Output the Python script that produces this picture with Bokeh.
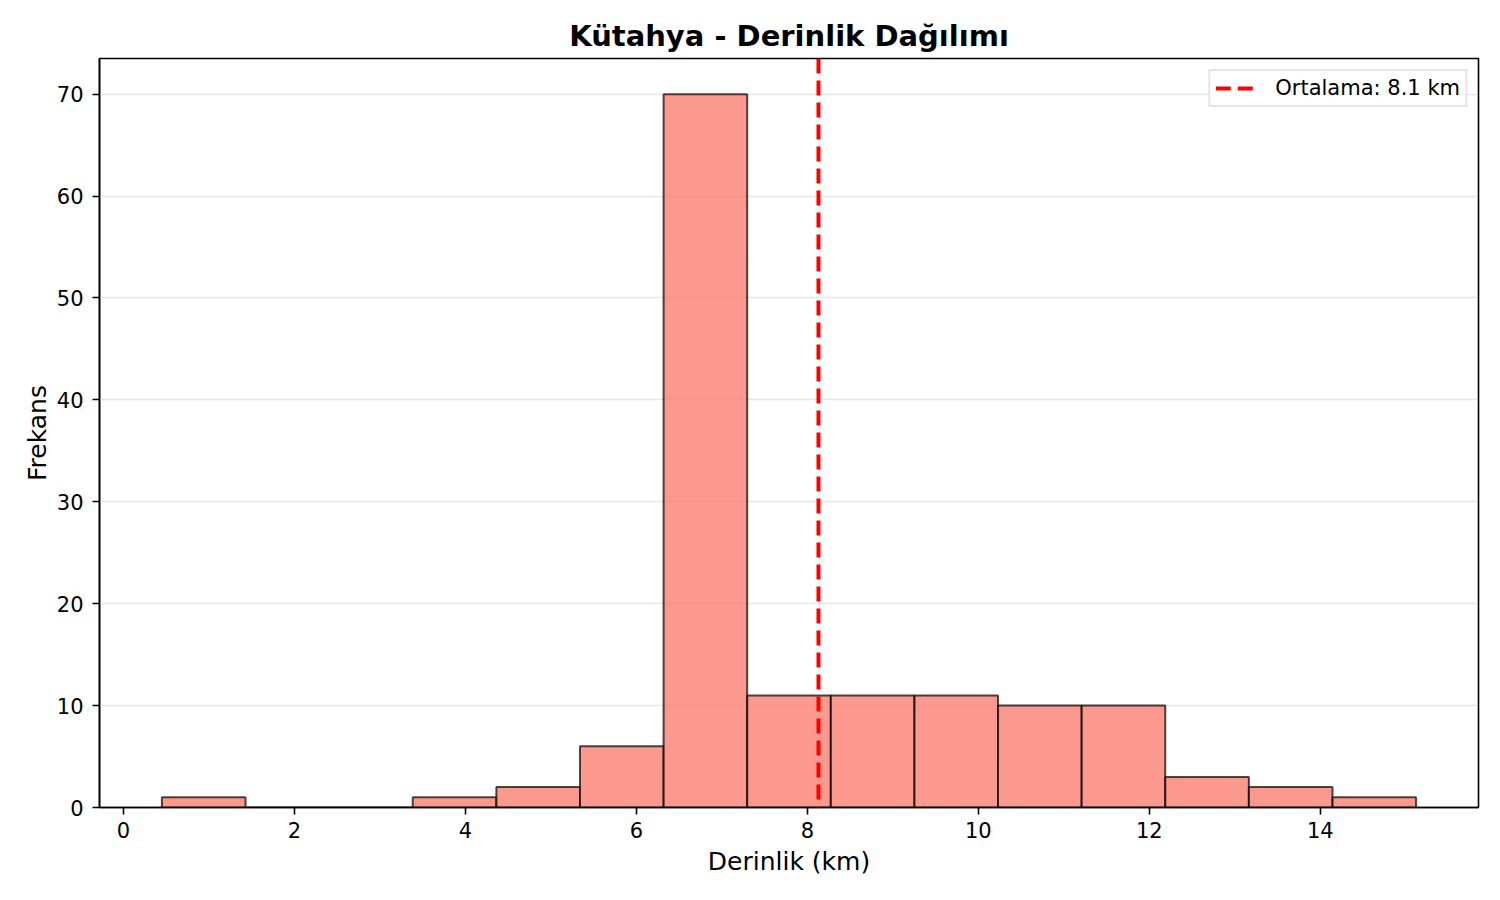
"""Kütahya derinlik histogramı."""
import bokeh.models as bm
import bokeh.plotting as bp
from bokeh.embed import file_html
from bokeh.resources import INLINE

# histogram kutuları (km) ve frekanslar
bin_edges = [0.45, 1.428, 2.406, 3.384, 4.362, 5.34, 6.318, 7.296, 8.274,
             9.252, 10.23, 11.208, 12.186, 13.164, 14.142, 15.12]
counts = [1, 0, 0, 1, 2, 6, 70, 11, 11, 11, 10, 10, 3, 2, 1]
mean_depth = 8.13
x_ticks = [0, 2, 4, 6, 8, 10, 12, 14]
y_ticks = [0, 10, 20, 30, 40, 50, 60, 70]

FONT = "DejaVu Sans"


def make_graph() -> bp.figure:
    """ヒストグラムを描く."""
    source = bm.ColumnDataSource(dict(
        left=bin_edges[:-1],
        right=bin_edges[1:],
        top=counts,
        bottom=[0] * len(counts),
    ))
    fig = bp.figure(
        width=1484,
        height=884,
        x_range=bm.Range1d(-0.28, 15.85),
        y_range=bm.Range1d(0, 73.5),
        output_backend="svg",
        toolbar_location=None,
        min_border_left=99,
        min_border_right=6,
        min_border_top=58,
        min_border_bottom=77,
    )
    fig.title.text = "Kütahya - Derinlik Dağılımı"
    fig.title.align = "center"
    fig.title.text_font = FONT
    fig.title.text_font_size = "29px"
    fig.title.text_font_style = "bold"
    fig.title.text_color = "black"
    fig.title.offset = 0
    fig.title.standoff = 11

    fig.quad(left="left", right="right", top="top", bottom="bottom", source=source,
             fill_color="salmon", fill_alpha=0.8, line_color="black", line_alpha=0.7, line_width=2)

    mean_line = bm.Span(location=mean_depth, dimension="height", line_color="red",
                        line_width=4, line_dash="15 7")
    fig.add_layout(mean_line)
    # legend için çizgi (görünür alanın dışında)
    dummy = fig.line(x=[mean_depth, mean_depth], y=[-10, -10], line_color="red",
                     line_width=4, line_dash="15 7")
    legend = bm.Legend(items=[bm.LegendItem(label=f"Ortalama: {mean_depth:.1f} km", renderers=[dummy])])
    legend.location = "top_right"
    legend.label_text_font = FONT
    legend.label_text_font_size = "21px"
    legend.label_text_color = "black"
    legend.border_line_color = "#cccccc"
    legend.border_line_width = 2
    legend.margin = 11
    legend.padding = 5
    legend.glyph_width = 40
    legend.glyph_height = 22
    legend.label_height = 22
    legend.label_standoff = 20
    legend.spacing = 0
    fig.add_layout(legend)

    fig.xaxis.ticker = bm.FixedTicker(ticks=x_ticks)
    fig.yaxis.ticker = bm.FixedTicker(ticks=y_ticks)
    fig.xaxis.axis_label = "Derinlik (km)"
    fig.yaxis.axis_label = "Frekans"
    for ax in (fig.xaxis, fig.yaxis):
        ax.axis_label_text_font = FONT
        ax.axis_label_text_font_size = "25px"
        ax.axis_label_text_font_style = "normal"
        ax.axis_label_text_color = "black"
        ax.major_label_text_font = FONT
        ax.major_label_text_font_size = "21px"
        ax.major_label_text_color = "black"
        ax.minor_tick_line_color = None
        ax.major_tick_in = 0
        ax.major_tick_out = 7
        ax.major_tick_line_width = 1.6
        ax.axis_line_width = 1.6
        ax.axis_line_color = "black"
    fig.xaxis.major_label_standoff = 7
    fig.yaxis.major_label_standoff = 9
    fig.xaxis.axis_label_standoff = 6
    fig.yaxis.axis_label_standoff = 2

    fig.xgrid.grid_line_color = None
    fig.ygrid.grid_line_color = "#b0b0b0"
    fig.ygrid.grid_line_alpha = 0.3
    fig.ygrid.grid_line_width = 1.6
    fig.outline_line_color = "black"
    fig.outline_line_width = 1.6
    fig.outline_line_alpha = 1.0
    return fig


def main() -> None:
    """メイン."""
    fig = make_graph()
    with open("out.html", "w") as f:
        f.write(file_html(fig, INLINE))


if __name__ == "__main__":
    main()
